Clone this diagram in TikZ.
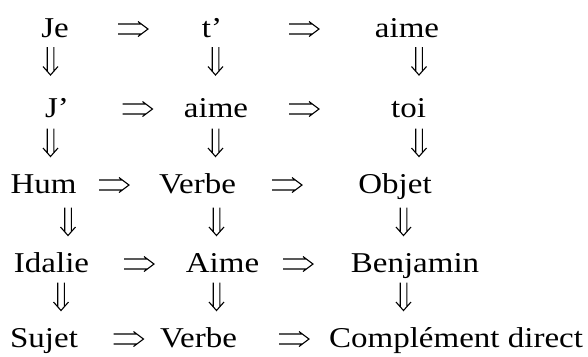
\documentclass[tikz,border=0pt]{standalone}
\usepackage{fontspec}
\setmainfont{Liberation Serif}
\newcommand{\sq}[1]{\scalebox{1}[0.87]{#1}}
\tikzset{
  word/.style={inner sep=0pt, anchor=base, font=\fontsize{33bp}{38bp}\selectfont},
  arr/.style={line width=1.1bp, line cap=butt, line join=miter, black},
  rarrow/.pic={\draw[arr] (-15,-5) -- (8.6,-5) (-15,5) -- (8.6,5) (5,-7.5) -- (15,0) -- (5,7.5);},
  darrow/.pic={\draw[arr] (-3.3,-14) -- (-3.3,10.2) (3.3,-14) -- (3.3,10.2) (-7.5,5.5) -- (0,14) -- (7.5,5.5);}
}
\begin{document}
\begin{tikzpicture}[x=1bp,y=-1bp]
\useasboundingbox (0,0) rectangle (588,356);
% row 1
\node[word] (w11) at (55,37) {\sq{Je}};
\pic (r11) at (133,29) {rarrow};
\node[word] (w12) at (212,37) {\sq{t’}};
\pic (r12) at (304,29) {rarrow};
\node[word] (w13) at (407,37) {\sq{aime}};
% down arrows 1-2
\pic (d11) at (50.5,61) {darrow};
\pic (d12) at (215.5,61) {darrow};
\pic (d13) at (419,61) {darrow};
% row 2
\node[word] (w21) at (57,117) {\sq{J’}};
\pic (r21) at (137.5,109) {rarrow};
\node[word] (w22) at (216,117) {\sq{aime}};
\pic (r22) at (304,109) {rarrow};
\node[word] (w23) at (408.5,117) {\sq{toi}};
% down arrows 2-3
\pic (d21) at (50.5,142.5) {darrow};
\pic (d22) at (215.5,142.5) {darrow};
\pic (d23) at (419,142.5) {darrow};
% row 3
\node[word] (w31) at (43.5,193) {\sq{Hum}};
\pic (r31) at (114,185) {rarrow};
\node[word] (w32) at (197.5,193) {\sq{Verbe}};
\pic (r32) at (287,185) {rarrow};
\node[word] (w33) at (395,193) {\sq{Objet}};
% down arrows 3-4
\pic (d31) at (68,221.5) {darrow};
\pic (d32) at (216.5,221.5) {darrow};
\pic (d33) at (403.5,221.5) {darrow};
% row 4
\node[word] (w41) at (51.5,272) {\sq{Idalie}};
\pic (r41) at (139,264) {rarrow};
\node[word] (w42) at (222.5,272) {\sq{Aime}};
\pic (r42) at (298,264) {rarrow};
\node[word] (w43) at (415,272) {\sq{Benjamin}};
% down arrows 4-5
\pic (d41) at (61,296.5) {darrow};
\pic (d42) at (216.5,296.5) {darrow};
\pic (d43) at (403.5,296.5) {darrow};
% row 5
\node[word] (w51) at (44,347) {\sq{Sujet}};
\pic (r51) at (128.5,339) {rarrow};
\node[word] (w52) at (198.5,347) {\sq{Verbe}};
\pic (r52) at (294,339) {rarrow};
\node[word] (w53) at (456,347) {\sq{Complément direct}};
\end{tikzpicture}
\end{document}
